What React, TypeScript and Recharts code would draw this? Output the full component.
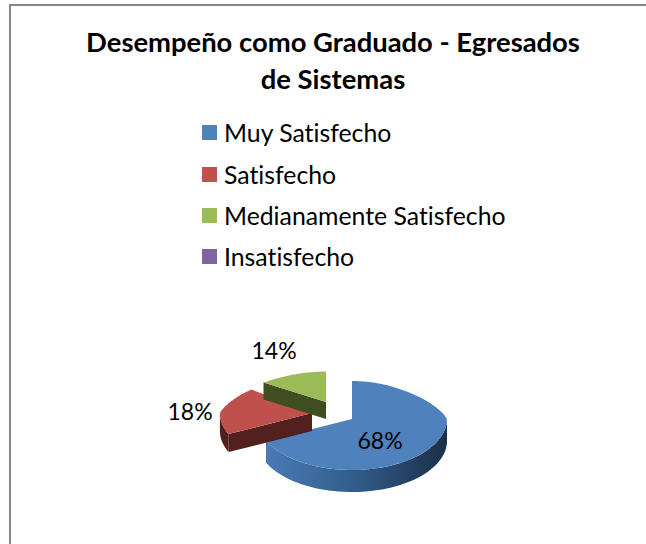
import React from 'react';
import { PieChart, Pie, Legend } from 'recharts';

const categories = ['Muy Satisfecho', 'Satisfecho', 'Medianamente Satisfecho', 'Insatisfecho'];
const values = [68, 18, 14, 0];
const titleLines = ['Desempeño como Graduado - Egresados', 'de Sistemas'];

const topColors = ['#4f81bd', '#c0504d', '#9bbb59', '#8064a2'];
const wallColors = ['url(#blueWall)', '#52201f', '#3f4d20', '#4a3a60'];
// exploded look: where each wedge sits relative to the pie centre
const explodeX = [0, -40, -26, 0];
const explodeY = [0, -6, -17, 0];
const radiusScale = [1, 0.97, 1, 1];
const upRatio = [0.4, 0.4, 0.32, 0.4];
const depths = [22, 18, 17, 0];
const labelDx = [28, -122, -52, 0];
const labelDy = [21, -2, -52, 0];

const chartData = categories.map((name, i) => ({ name, value: values[i], fill: topColors[i] }));

const DOWN_RATIO = 0.537;
const PIE_FONT = 'Lato, sans-serif';

const WedgeShape = (props: any) => {
  const { cx, cy, outerRadius, startAngle, endAngle, name } = props;
  const i = categories.indexOf(name);
  if (i < 0 || values[i] === 0) return null;
  const ax = cx + explodeX[i];
  const ay = cy + explodeY[i];
  const d = depths[i];
  const r = outerRadius * radiusScale[i];

  const point = (deg: number, drop = 0) => {
    const rad = (deg * Math.PI) / 180;
    const s = Math.sin(rad);
    const squeeze = s > 0 ? 1 - 0.23 * s : 1;
    const ry = s > 0 ? upRatio[i] : DOWN_RATIO;
    return [ax + r * Math.cos(rad) * squeeze, ay - r * ry * s + drop];
  };
  const arc = (from: number, to: number, drop = 0) => {
    const pts = [];
    const n = Math.max(2, Math.ceil(Math.abs(to - from) / 3));
    for (let k = 0; k <= n; k++) pts.push(point(from + ((to - from) * k) / n, drop));
    return pts;
  };
  const toPath = (pts: number[][]) => 'M' + pts.map((p) => p[0].toFixed(1) + ' ' + p[1].toFixed(1)).join('L') + 'Z';

  // front of the rim: the part of the arc on the lower half of the ellipse
  const a0 = Math.max(startAngle, endAngle);
  const a1 = Math.min(startAngle, endAngle);
  const walls: React.ReactNode[] = [];
  [[360, 180], [0, -180]].forEach(([hi], w) => {
    const from = Math.min(a0, hi === 360 ? 360 : 0);
    const to = Math.max(a1, hi === 360 ? 180 : -180);
    if (from > to) {
      const top = arc(from, to);
      const bottom = arc(to, from, d);
      walls.push(<path key={w} d={toPath([...top, ...bottom])} fill={wallColors[i]} />);
    }
  });

  // cut face that looks towards the viewer
  const edge = (deg: number) => {
    const p = point(deg);
    return toPath([[ax, ay], p, [p[0], p[1] + d], [ax, ay + d]]);
  };
  const startCos = Math.cos((a0 * Math.PI) / 180);

  return (
    <g>
      {startCos < -0.01 && <path d={edge(a0)} fill={wallColors[i]} />}
      {walls}
      <path d={toPath([[ax, ay], ...arc(a0, a1)])} fill={topColors[i]} />
    </g>
  );
};

const renderPercent = (props: any) => {
  const i = categories.indexOf(props.name);
  if (i < 0 || values[i] === 0) return null;
  return (
    <text
      x={props.cx + explodeX[i] + labelDx[i]}
      y={props.cy + explodeY[i] + labelDy[i]}
      textAnchor="middle"
      dominantBaseline="central"
      fontFamily={PIE_FONT}
      fontSize={23}
      fill="#000"
    >
      {values[i]}%
    </text>
  );
};

const LegendRows = ({ payload }: any) => (
  <div>
    {(payload || []).map((item: any) => (
      <div key={item.value} style={{ display: 'flex', alignItems: 'center', height: 41.4 }}>
        <span style={{ width: 15, height: 15, background: item.color, marginRight: 7 }} />
        <span
          style={{
            fontFamily: PIE_FONT,
            fontSize: 24.8,
            color: '#000',
            whiteSpace: 'nowrap',
            fontVariantLigatures: 'none',
          }}
        >
          {item.value}
        </span>
      </div>
    ))}
  </div>
);

export default function App() {
  return (
    <div style={{ position: 'absolute', left: 0, top: 0, width: 646, height: 544, overflow: 'hidden', background: '#fff' }}>
      <div
        style={{
          position: 'absolute',
          left: 9,
          top: 4,
          width: 700,
          height: 600,
          borderLeft: '2px solid #868686',
          borderTop: '2px solid #868686',
        }}
      />
      <div
        style={{
          position: 'absolute',
          left: 0,
          top: 23,
          width: 666,
          textAlign: 'center',
          fontFamily: PIE_FONT,
          fontWeight: 700,
          fontSize: 27.4,
          lineHeight: '37px',
          color: '#000',
          fontVariantLigatures: 'none',
        }}
      >
        {titleLines.map((t) => (
          <div key={t}>{t}</div>
        ))}
      </div>
      <PieChart
        width={646}
        height={544}
        margin={{ top: 0, right: 0, bottom: 0, left: 0 }}
        style={{ position: 'absolute', left: 0, top: 0 }}
      >
        <defs>
          <linearGradient id="blueWall" x1="0" y1="0" x2="1" y2="0">
            <stop offset="0" stopColor="#4a7ab5" />
            <stop offset="0.45" stopColor="#34608f" />
            <stop offset="1" stopColor="#1b2f48" />
          </linearGradient>
        </defs>
        <Pie
          data={chartData}
          dataKey="value"
          nameKey="name"
          cx={352}
          cy={419}
          outerRadius={95}
          startAngle={90}
          endAngle={-270}
          stroke="none"
          label={renderPercent}
          labelLine={false}
          shape={WedgeShape}
          isAnimationActive={false}
        />
        <Legend
          layout="vertical"
          content={LegendRows}
          itemSorter={null}
          wrapperStyle={{ left: 202, top: 112, width: 330, bottom: 'auto', right: 'auto' }}
        />
      </PieChart>
    </div>
  );
}
